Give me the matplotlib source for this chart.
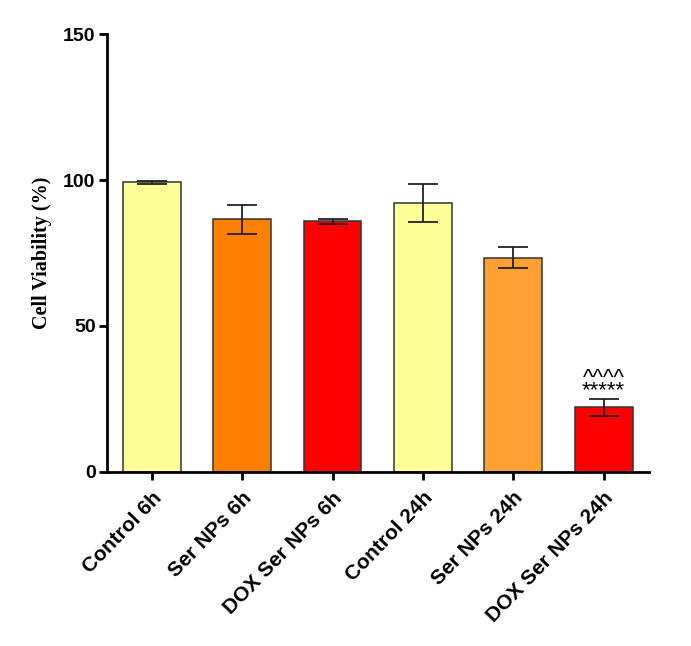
import numpy as np
import matplotlib.pyplot as plt

# Cell viability data
groups = ["Control 6h", "Ser NPs 6h", "DOX Ser NPs 6h",
          "Control 24h", "Ser NPs 24h", "DOX Ser NPs 24h"]
viability = [99.3, 86.6, 85.8, 92.2, 73.4, 22.1]
sd = [0.5, 5.0, 0.9, 6.6, 3.6, 2.9]
bar_colors = ["#FFFF99", "#FF8000", "#FF0000", "#FFFF99", "#FFA033", "#FF0000"]
sig_mark = "^^^^\n*****"

fig = plt.figure(figsize=(6.91, 6.46), dpi=100)
ax = fig.add_axes([0.1544, 0.2698, 0.7845, 0.6772])

x = np.arange(len(groups))
ax.bar(x, viability, width=0.64, color=bar_colors, edgecolor="#333333",
       linewidth=1.1, zorder=2)
ax.errorbar(x, viability, yerr=sd, fmt="none", ecolor="#222222",
            elinewidth=1.3, capsize=11, capthick=1.3, zorder=3)

# significance marks above the last bar
ax.text(x[-1], 29.8, sig_mark, ha="center", va="center", fontsize=16,
        linespacing=0.45, family="Liberation Sans")

ax.set_xlim(-0.5, 5.5)
ax.set_ylim(0, 150)
ax.set_yticks([0, 50, 100, 150])
ax.set_xticks(x)
ax.set_xticklabels(groups, rotation=46, ha="right", rotation_mode="anchor",
                   fontsize=15, fontweight="bold", family="Liberation Sans")
for lab in ax.get_yticklabels():
    lab.set_fontsize(14)
    lab.set_fontweight("bold")
    lab.set_family("Liberation Sans")

ax.set_ylabel("Cell Viability (%)", fontsize=14.5, fontweight="bold",
              family="Liberation Serif", labelpad=8)

for side in ["top", "right"]:
    ax.spines[side].set_visible(False)
for side in ["left", "bottom"]:
    ax.spines[side].set_linewidth(2.0)
ax.tick_params(axis="y", width=2.0, length=6, direction="out", pad=2)
ax.tick_params(axis="x", width=2.0, length=6, direction="out", pad=6)

fig.savefig("out.png", dpi=100)
